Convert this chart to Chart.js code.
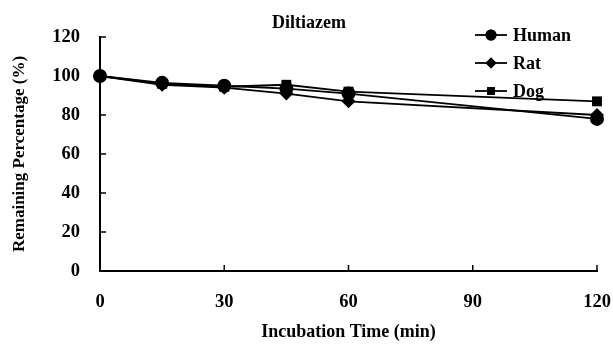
<!DOCTYPE html>
<html>
<head>
<meta charset="utf-8">
<script src="https://cdn.jsdelivr.net/npm/chart.js@4/dist/chart.umd.min.js"></script>
<style>
  html, body { margin: 0; padding: 0; background: #fff; }
  #wrap { width: 613px; height: 347px; }
</style>
</head>
<body>
<div id="wrap"><canvas id="c" width="613" height="347"></canvas></div>
<script>
// Incubation time points (min) and remaining percentage per species
const times = [0, 15, 30, 45, 60, 120];
const human = [100, 96.5, 95, 93.5, 91, 78];
const rat   = [100, 95.5, 94, 91, 87, 80];
const dog   = [100, 96, 94.5, 95.5, 92, 87];

const seriesNames = ['Human', 'Rat', 'Dog'];
const xTicks = [0, 30, 60, 90, 120];
const yTicks = [0, 20, 40, 60, 80, 100, 120];
const chartTitle = 'Diltiazem';

const FONT = "'Liberation Serif', 'Times New Roman', serif";

function toPoints(vals) { return times.map((t, i) => ({ x: t, y: vals[i] })); }

function series(label, vals, style) {
  return {
    label: label,
    data: toPoints(vals),
    borderColor: '#000',
    backgroundColor: '#000',
    borderWidth: 1.8,
    pointStyle: style,
    pointRadius: 7,
    pointHoverRadius: 7,
    pointBorderWidth: 0,
    tension: 0,
    clip: false
  };
}

// Inward tick marks on both axes
const innerTicks = {
  id: 'innerTicks',
  afterDraw(chart) {
    const ctx = chart.ctx;
    const xs = chart.scales.x, ys = chart.scales.y;
    const area = chart.chartArea;
    ctx.save();
    ctx.strokeStyle = '#000';
    ctx.lineWidth = 1.5;
    ctx.beginPath();
    xTicks.forEach(v => {
      const px = xs.getPixelForValue(v);
      ctx.moveTo(px, area.bottom);
      ctx.lineTo(px, area.bottom - 6);
    });
    yTicks.forEach(v => {
      const py = ys.getPixelForValue(v);
      ctx.moveTo(area.left, py);
      ctx.lineTo(area.left + 6, py);
    });
    ctx.stroke();
    ctx.restore();
  }
};

// Title and legend drawn inside the top of the plot
const titleLegend = {
  id: 'titleLegend',
  afterDraw(chart) {
    const ctx = chart.ctx;
    ctx.save();
    ctx.fillStyle = '#000';
    ctx.font = 'bold 18px ' + FONT;
    ctx.textAlign = 'center';
    ctx.textBaseline = 'middle';
    ctx.fillText(chartTitle, 309, 23);

    const x0 = 475, x1 = 507, tx = 513;
    const rows = [35, 63, 91];
    chart.data.datasets.forEach((ds, i) => {
      const y = rows[i];
      ctx.strokeStyle = '#000';
      ctx.lineWidth = 1.8;
      ctx.beginPath();
      ctx.moveTo(x0, y);
      ctx.lineTo(x1, y);
      ctx.stroke();
      ctx.fillStyle = '#000';
      Chart.helpers.drawPoint(ctx, { pointStyle: ds.pointStyle, radius: 5.5, rotation: 0, borderWidth: 0 }, (x0 + x1) / 2, y);
      ctx.fill();
      ctx.font = 'bold 18px ' + FONT;
      ctx.textAlign = 'left';
      ctx.textBaseline = 'middle';
      ctx.fillText(ds.label, tx, y + 1);
    });
    ctx.restore();
  }
};

new Chart(document.getElementById('c'), {
  type: 'line',
  data: {
    datasets: [
      series(seriesNames[0], human, 'circle'),
      series(seriesNames[1], rat, 'rectRot'),
      series(seriesNames[2], dog, 'rect')
    ]
  },
  options: {
    responsive: false,
    animation: false,
    devicePixelRatio: 1,
    layout: { padding: { top: 37, right: 16, left: 0, bottom: 0 } },
    plugins: {
      legend: { display: false },
      title: { display: false },
      tooltip: { enabled: false }
    },
    scales: {
      x: {
        type: 'linear',
        min: 0, max: 120,
        afterFit(s) { s.height = 76; s.paddingLeft = 0; s.paddingRight = 0; },
        afterBuildTicks(s) { s.ticks = xTicks.map(v => ({ value: v })); },
        grid: { display: true, drawOnChartArea: false, drawTicks: false },
        border: { display: true, color: '#000', width: 2 },
        ticks: {
          padding: 20,
          color: '#000',
          maxRotation: 0,
          font: { family: FONT, size: 18.5, weight: 'bold' }
        },
        title: {
          display: true,
          text: 'Incubation Time (min)',
          color: '#000',
          padding: { top: 0, bottom: 4 },
          font: { family: FONT, size: 18, weight: 'bold' }
        }
      },
      y: {
        type: 'linear',
        min: 0, max: 120,
        afterFit(s) { s.width = 100; s.paddingTop = 0; s.paddingBottom = 0; },
        afterBuildTicks(s) { s.ticks = yTicks.map(v => ({ value: v })); },
        grid: { display: true, drawOnChartArea: false, drawTicks: false },
        border: { display: true, color: '#000', width: 2 },
        ticks: {
          padding: 20,
          color: '#000',
          font: { family: FONT, size: 18.5, weight: 'bold' }
        },
        title: {
          display: true,
          text: 'Remaining Percentage (%)',
          color: '#000',
          padding: { top: 9, bottom: 0 },
          font: { family: FONT, size: 17, weight: 'bold' }
        }
      }
    }
  },
  plugins: [innerTicks, titleLegend]
});
</script>
</body>
</html>
